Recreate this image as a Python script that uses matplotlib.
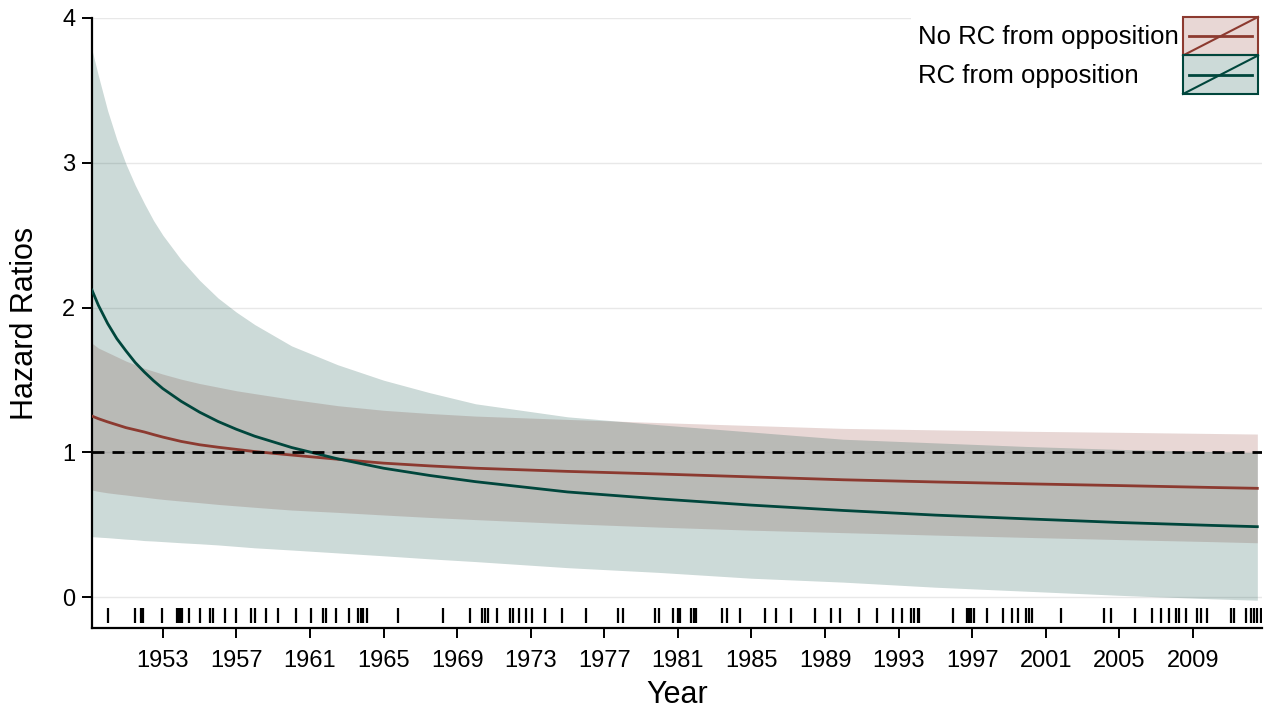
import numpy as np
import matplotlib.pyplot as plt
from matplotlib.legend_handler import HandlerBase
from matplotlib.patches import Rectangle
from matplotlib.lines import Line2D

plt.rcParams['font.family'] = ['Liberation Sans', 'DejaVu Sans']

# values (year, hazard ratio)
years = [1949.15, 1949.5, 1950, 1950.5, 1951, 1951.5, 1952, 1952.5, 1953, 1954, 1955, 1956,
         1957, 1958, 1960, 1962.5, 1965, 1967.5, 1970, 1975, 1980, 1985, 1990, 1995, 2000,
         2005, 2010, 2012.5]
greenHR = [2.12, 2.015, 1.89, 1.785, 1.70, 1.62, 1.554, 1.494, 1.44, 1.352, 1.277, 1.213,
           1.159, 1.111, 1.033, 0.955, 0.89, 0.84, 0.797, 0.726, 0.678, 0.635, 0.598, 0.566,
           0.54, 0.515, 0.495, 0.486]
greenHi = [3.78, 3.60, 3.36, 3.16, 2.99, 2.845, 2.718, 2.60, 2.50, 2.33, 2.188, 2.066,
           1.968, 1.882, 1.735, 1.605, 1.498, 1.412, 1.335, 1.245, 1.19, 1.14, 1.09, 1.065,
           1.04, 1.02, 1.005, 0.997]
greenLo = [0.417, 0.414, 0.41, 0.405, 0.40, 0.396, 0.39, 0.387, 0.383, 0.375, 0.368, 0.36,
           0.35, 0.34, 0.325, 0.305, 0.285, 0.264, 0.245, 0.203, 0.17, 0.13, 0.103, 0.068,
           0.04, 0.012, -0.012, -0.022]
redHR = [1.25, 1.232, 1.21, 1.19, 1.17, 1.155, 1.14, 1.122, 1.105, 1.075, 1.052, 1.035,
         1.02, 1.005, 0.981, 0.952, 0.925, 0.906, 0.89, 0.868, 0.85, 0.83, 0.81, 0.795,
         0.782, 0.77, 0.757, 0.751]
redHi = [1.753, 1.72, 1.69, 1.66, 1.63, 1.605, 1.58, 1.56, 1.54, 1.505, 1.475, 1.45,
         1.425, 1.405, 1.366, 1.322, 1.29, 1.268, 1.25, 1.227, 1.205, 1.185, 1.165, 1.155,
         1.145, 1.138, 1.13, 1.126]
redLo = [0.739, 0.73, 0.72, 0.712, 0.705, 0.697, 0.69, 0.682, 0.675, 0.663, 0.652, 0.64,
         0.63, 0.62, 0.601, 0.585, 0.567, 0.55, 0.535, 0.507, 0.483, 0.462, 0.445, 0.428,
         0.412, 0.397, 0.383, 0.375]

# event times shown as rug
rugYears = [1950.03, 1951.48, 1951.79, 1951.9, 1952.96, 1953.76, 1953.85, 1953.95, 1954.03,
            1954.43, 1955.0, 1955.55, 1955.73, 1956.37, 1957.0, 1957.82, 1958.0, 1958.63,
            1959.26, 1960.26, 1961.08, 1961.71, 1961.89, 1962.43, 1963.12, 1963.6, 1963.75,
            1963.9, 1964.08, 1965.78, 1968.23, 1969.71, 1970.37, 1970.49, 1970.67, 1971.16,
            1971.85, 1972.03, 1972.35, 1972.76, 1973.06, 1973.79, 1974.69, 1976.01, 1977.73,
            1978.04, 1979.78, 1979.96, 1980.72, 1980.99, 1981.12, 1981.72, 1981.9, 1981.99,
            1983.4, 1983.65, 1984.38, 1985.74, 1986.34, 1987.15, 1988.45, 1989.32, 1989.81,
            1990.86, 1991.85, 1992.67, 1993.21, 1993.7, 1993.85, 1994.03, 1994.12, 1995.98,
            1996.74, 1996.8, 1996.94, 1997.1, 1997.8, 1998.7, 1999.19, 1999.51, 1999.91,
            2000.09, 2000.24, 2001.81, 2004.17, 2004.53, 2005.83, 2006.76, 2007.25, 2007.7,
            2008.06, 2008.24, 2008.61, 2009.24, 2009.42, 2009.78, 2011.05, 2011.23, 2011.87,
            2012.14, 2012.32, 2012.46, 2012.68]

xTicks = list(range(1953, 2010, 4))
yTicks = [0, 1, 2, 3, 4]
labels = ['No RC from opposition', 'RC from opposition']

redCol = '#8c3a30'
greenCol = '#00463c'


class CIHandler(HandlerBase):
    # box with fill, horizontal line and a diagonal, like the stata legend keys
    def __init__(self, color):
        super().__init__()
        self.color = color

    def create_artists(self, legend, orig_handle, xdescent, ydescent, width, height, fontsize, trans):
        x0, y0 = -xdescent, -ydescent
        rect = Rectangle((x0, y0), width, height, facecolor=self.color + '33',
                         edgecolor=self.color, linewidth=1.5, transform=trans)
        hLine = Line2D([x0 + 0.08*width, x0 + 0.92*width], [y0 + height/2, y0 + height/2],
                       color=self.color, linewidth=2, transform=trans)
        dLine = Line2D([x0, x0 + width], [y0, y0 + height], color=self.color,
                       linewidth=1.5, transform=trans)
        return [rect, hLine, dLine]


fig = plt.figure(figsize=(12.67, 7.11), dpi=100)
ax = fig.add_axes([0.0726, 0.1167, 0.9234, 0.858])

ax.fill_between(years, redLo, redHi, color=redCol, alpha=0.2, linewidth=0, zorder=2)
ax.fill_between(years, greenLo, greenHi, color=greenCol, alpha=0.2, linewidth=0, zorder=2)
ax.plot(years, redHR, color=redCol, linewidth=2, zorder=3)
ax.plot(years, greenHR, color=greenCol, linewidth=2, zorder=3)
ax.axhline(1, color='k', linewidth=2, linestyle=(0, (4.3, 2.9)), zorder=4)
ax.vlines(rugYears, -0.18, -0.075, color='k', linewidth=1.6, zorder=3)

ax.set_xlim(1949.15, 2012.75)
ax.set_ylim(-0.214, 4)
ax.set_xticks(xTicks)
ax.set_yticks(yTicks)
ax.grid(axis='y', color='#e8e8e8', linewidth=1, zorder=0)
ax.set_axisbelow(True)
for s in ['top', 'right']:
    ax.spines[s].set_visible(False)
for s in ['left', 'bottom']:
    ax.spines[s].set_linewidth(1.6)
ax.tick_params(axis='both', direction='out', length=7, width=1.4, labelsize=17, pad=5)
ax.tick_params(axis='x', pad=8.5)
ax.set_xlabel('Year', fontsize=22, labelpad=6)
ax.set_ylabel('Hazard Ratios', fontsize=22, labelpad=16)

h1 = Rectangle((0, 0), 1, 1)
h2 = Rectangle((0, 0), 1, 1)
leg = fig.legend([h1, h2], labels, handler_map={h1: CIHandler(redCol), h2: CIHandler(greenCol)},
                 loc='upper right', bbox_to_anchor=(0.999, 0.987), markerfirst=False,
                 fontsize=18.5, handlelength=2.92, handleheight=1.93, labelspacing=0,
                 handletextpad=0.15, borderpad=0.3, borderaxespad=0, frameon=True,
                 fancybox=False, edgecolor='none', facecolor='white', framealpha=1)

# labels sit flush left in the reference, so spread each row to the widest one
fig.canvas.draw()
renderer = fig.canvas.get_renderer()
rows = leg._legend_handle_box.get_children()[0].get_children()
maxW = max(r.get_bbox(renderer).width for r in rows)
for r in rows:
    r.mode = 'expand'
    r.width = maxW

fig.savefig('out.png', dpi=100)
